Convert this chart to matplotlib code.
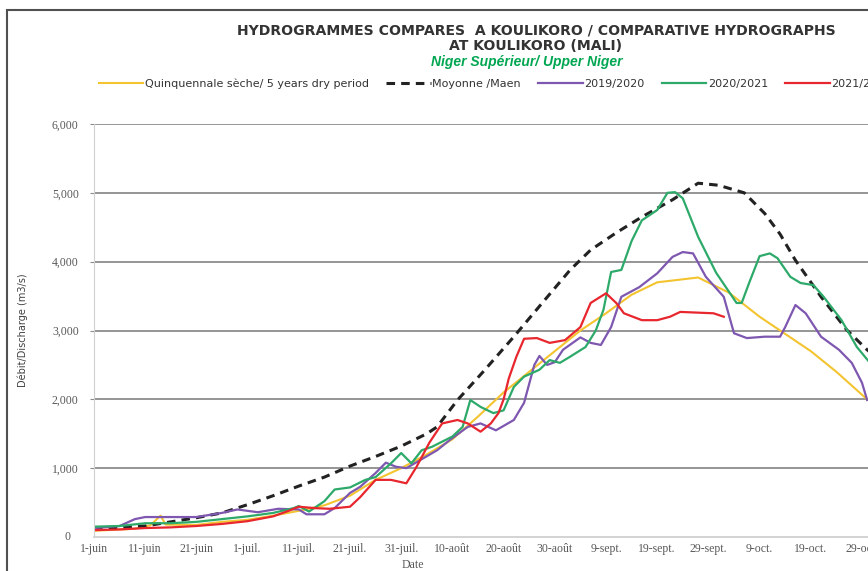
import matplotlib
matplotlib.use("Agg")
import matplotlib.pyplot as plt
from matplotlib.patches import Rectangle
from matplotlib.font_manager import FontProperties

# days counted from 1 June
x_labels = ["1-juin", "11-juin", "21-juin", "1-juil.", "11-juil.", "21-juil.",
            "31-juil.", "10-août", "20-août", "30-août", "9-sept.", "19-sept.",
            "29-sept.", "9-oct.", "19-oct.", "29-oct."]
x_ticks = [0, 10, 20, 30, 40, 50, 60, 70, 80, 90, 100, 110, 120, 130, 140, 150]
y_ticks = [0, 1000, 2000, 3000, 4000, 5000, 6000]
y_labels = ["0", "1,000", "2,000", "3,000", "4,000", "5,000", "6,000"]

dry_days = [0, 8, 11, 13, 14, 20, 25, 30, 35, 40, 45, 50, 55, 60, 65, 70, 75, 80,
            85, 90, 95, 100, 105, 110, 118, 124, 130, 135, 140, 145, 151]
dry_vals = [90, 120, 170, 310, 180, 175, 220, 250, 310, 380, 460, 600, 830, 1000,
            1200, 1420, 1750, 2100, 2400, 2700, 3000, 3250, 3520, 3700, 3770,
            3550, 3200, 2950, 2700, 2400, 2000]

mean_days = [0, 5, 10, 15, 20, 25, 30, 35, 40, 45, 50, 55, 60, 65, 67, 71, 76, 82,
             88, 93, 97, 102, 107, 113, 118, 122, 127, 131, 134, 137, 142, 147,
             151, 153]
mean_vals = [130, 140, 160, 220, 280, 350, 470, 600, 740, 870, 1030, 1170, 1320,
             1500, 1600, 1990, 2400, 2910, 3440, 3880, 4170, 4420, 4650, 4900,
             5140, 5110, 5000, 4700, 4400, 4020, 3490, 3010, 2720, 2600]

y1920_days = [0, 5, 8, 10, 20, 25, 28, 32, 36, 40, 41.5, 45, 47, 50, 52, 55, 57,
              59, 61, 67, 69.5, 73, 75.5, 78.5, 82, 84, 86, 87, 88.5, 90, 91.6,
              95, 97, 99, 101, 103, 106.5, 110, 113, 115, 117, 119.5, 123, 125,
              127.5, 131, 134, 135, 137, 139, 142, 145.5, 148, 150, 151]
y1920_vals = [130, 160, 260, 290, 290, 350, 400, 360, 410, 400, 330, 330, 420,
              640, 730, 930, 1080, 1020, 1000, 1260, 1410, 1600, 1650, 1550,
              1700, 1950, 2500, 2630, 2500, 2540, 2720, 2900, 2820, 2790, 3050,
              3490, 3630, 3830, 4070, 4140, 4120, 3780, 3490, 2960, 2890, 2910,
              2910, 3050, 3370, 3250, 2910, 2720, 2530, 2240, 1990]

y2021_days = [0, 5, 10, 15, 20, 25, 30, 35, 39, 40, 42, 45, 47, 50, 53, 55, 58,
              60, 62, 64, 66, 70, 72, 73.5, 75.5, 78, 80, 82, 84, 87, 89, 91, 93,
              96, 98, 99.5, 101, 103, 105, 107, 110, 112, 113.5, 115, 118, 121.5,
              125.5, 126.5, 128, 130, 132, 133.5, 136, 138, 140.5, 142.5, 146,
              149, 153]
y2021_vals = [150, 160, 200, 200, 220, 260, 300, 350, 420, 450, 370, 520, 690,
              720, 830, 870, 1070, 1220, 1070, 1260, 1310, 1460, 1600, 1990,
              1890, 1800, 1840, 2180, 2330, 2430, 2570, 2530, 2620, 2760, 3000,
              3300, 3850, 3880, 4300, 4600, 4750, 5000, 5010, 4920, 4360, 3840,
              3400, 3400, 3700, 4080, 4120, 4050, 3780, 3690, 3660, 3490, 3150,
              2760, 2400]

y2122_days = [0, 5, 10, 15, 20, 25, 30, 35, 38, 40, 43, 46, 50, 52, 55, 58, 61,
              63, 65.5, 68, 71, 73, 75.5, 77.5, 79, 80, 81, 82.5, 84, 86.5, 89,
              92, 95, 97, 100, 102, 103.5, 107, 110, 112.5, 114.5, 121, 123]
y2122_vals = [100, 110, 130, 140, 160, 190, 230, 300, 380, 440, 420, 410, 440,
              580, 830, 830, 780, 1020, 1370, 1650, 1700, 1650, 1530, 1650, 1800,
              2000, 2300, 2620, 2880, 2890, 2820, 2860, 3050, 3400, 3540, 3400,
              3250, 3150, 3150, 3200, 3270, 3250, 3200]

W, H = 868, 571
fig = plt.figure(figsize=(W / 100, H / 100), dpi=100)
fig.patch.set_facecolor("white")

# outer chart frame (cut off right and bottom like the screenshot)
fig.patches.append(Rectangle((7 / W, -0.05), 1.2, 1 - 10 / H + 0.05,
                             transform=fig.transFigure, fill=False,
                             edgecolor="#505050", lw=1.5))

px_per_day = 5.12
xmax = 153
ax = fig.add_axes([94 / W, 34 / H, xmax * px_per_day / W, 413 / H])

ax.plot(dry_days, dry_vals, color="#F4C430", lw=1.5,
        label="Quinquennale sèche/ 5 years dry period")
ax.plot(mean_days, mean_vals, color="#222222", lw=2.2, dashes=(2.8, 2.0),
        label="Moyonne /Maen")
ax.plot(y1920_days, y1920_vals, color="#7E57B0", lw=1.6, label="2019/2020")
ax.plot(y2021_days, y2021_vals, color="#2DAA6A", lw=1.6, label="2020/2021")
ax.plot(y2122_days, y2122_vals, color="#E8262E", lw=1.6, label="2021/2022")

ax.set_xlim(0, xmax)
ax.set_ylim(0, 6000)
ax.set_yticks(y_ticks[1:])
ax.set_yticklabels(y_labels[1:])
ax.set_xticks(x_ticks)
ax.set_xticklabels(x_labels)
ax.grid(axis="y", color="#8c8c8c", lw=1.3)
ax.set_axisbelow(True)
for s in ["top", "right"]:
    ax.spines[s].set_visible(False)
ax.spines["left"].set_color("#d0d0d0")
ax.spines["bottom"].set_color("#d0d0d0")
ax.spines["bottom"].set_linewidth(1.3)

tick_font = FontProperties(family=["Liberation Serif", "DejaVu Serif"], size=8.5)
for lab in ax.get_xticklabels() + ax.get_yticklabels():
    lab.set_fontproperties(tick_font)
    lab.set_color("#595959")
ax.tick_params(axis="x", length=0, pad=4)
ax.tick_params(axis="y", length=3, color="#8c8c8c", pad=8)
# zero label sits on the bottom axis
ax.text(-0.03, 0, "0", transform=ax.get_yaxis_transform(), ha="right",
        va="center", fontproperties=tick_font, color="#595959")

narrow = ["Liberation Sans Narrow", "DejaVu Sans"]
ax.set_xlabel("Date", fontproperties=tick_font, color="#595959")
ax.xaxis.set_label_coords((413 - 94) / (xmax * px_per_day), -0.054)
ax.set_ylabel("Débit/Discharge (m3/s)", family=narrow, fontsize=7, color="#404040")
ax.yaxis.set_label_coords((28 - 94) / (xmax * px_per_day), 0.5)

title_kw = dict(ha="center", va="center", family=["DejaVu Sans"],
                fontweight="bold", fontsize=10.1, color="#333333")
fig.text(536 / W, 1 - 30 / H,
         "HYDROGRAMMES COMPARES  A KOULIKORO / COMPARATIVE HYDROGRAPHS", **title_kw)
fig.text(536 / W, 1 - 46 / H, "AT KOULIKORO (MALI)", **title_kw)
fig.text(527 / W, 1 - 62 / H, "Niger Supérieur/ Upper Niger", ha="center",
         va="center", family=["Liberation Sans", "DejaVu Sans"], fontweight="bold",
         style="italic", fontsize=10, color="#00A651")

leg = fig.legend(loc="center left", bbox_to_anchor=(99 / W, 1 - 84 / H), ncol=5,
                 frameon=False, handlelength=4.0, handletextpad=0.15,
                 columnspacing=1.55, borderpad=0, borderaxespad=0,
                 prop=FontProperties(family=narrow, size=8))
for t in leg.get_texts():
    t.set_color("#333333")

fig.savefig("out.png", dpi=100)
